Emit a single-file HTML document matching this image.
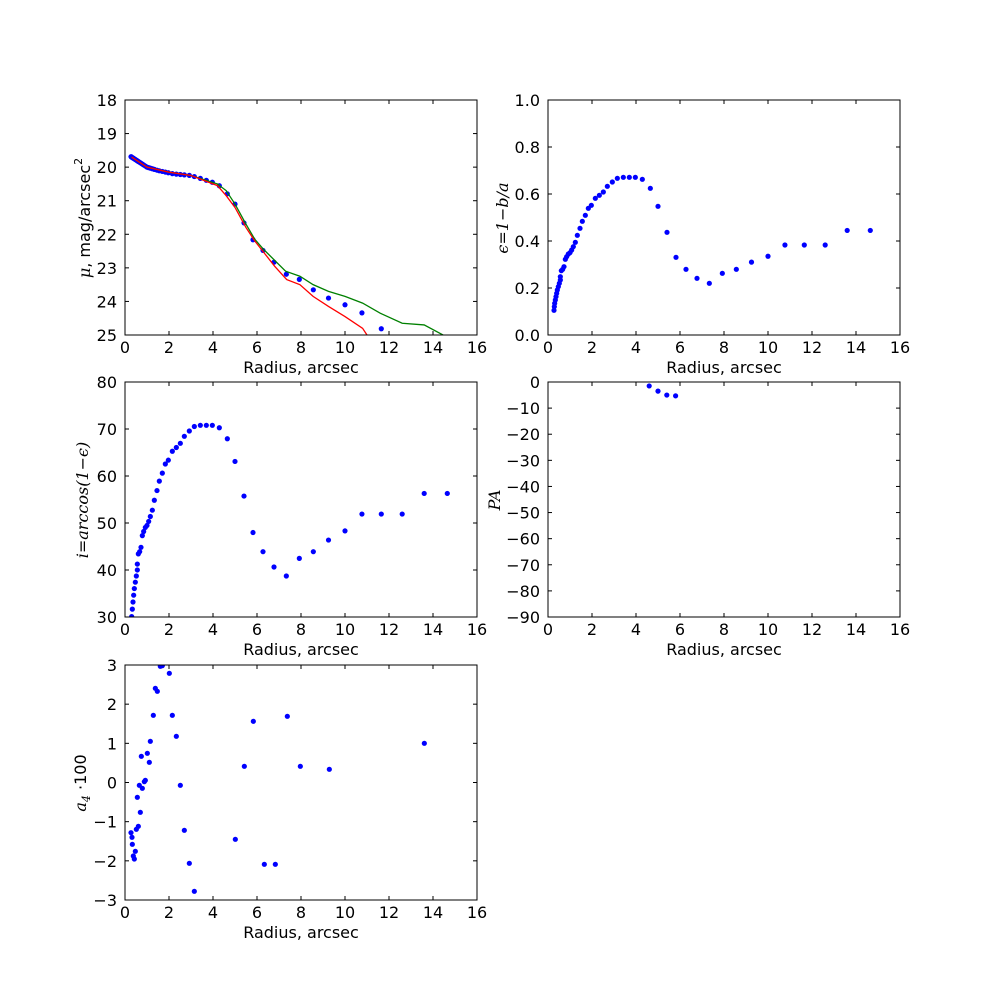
<!DOCTYPE html>
<html><head><meta charset="utf-8"><style>
body{margin:0;background:#fff}
svg text{font-family:"DejaVu Sans","Liberation Sans",sans-serif;font-size:16px;fill:#000}
.m{font-family:"DejaVu Serif","Liberation Serif",serif;font-style:italic}
</style></head><body>
<svg id="s" width="1000" height="1000" xmlns="http://www.w3.org/2000/svg"></svg>
<script>
const S=document.getElementById('s');let h='';
const W=352,H=235;
function ax(x0,y0,ymin,ymax,ystep,ylab,id,inv){
  h+=`<defs><clipPath id="${id}"><rect x="${x0}" y="${y0}" width="${W}" height="${H}"/></clipPath></defs>`;
  for(let v=0;v<=16;v+=2){const x=x0+v*22;
    h+=`<line x1="${x}" y1="${y0}" x2="${x}" y2="${y0+4}" stroke="#000"/><line x1="${x}" y1="${y0+H}" x2="${x}" y2="${y0+H-4}" stroke="#000"/>`;
    h+=`<text x="${x}" y="${y0+H+18}" text-anchor="middle">${v}</text>`;}
  const n=Math.round((ymax-ymin)/ystep);
  for(let i=0;i<=n;i++){const v=ymin+i*ystep;const y=inv?y0+i*H/n:y0+H-i*H/n;
    h+=`<line x1="${x0}" y1="${y}" x2="${x0+4}" y2="${y}" stroke="#000"/><line x1="${x0+W}" y1="${y}" x2="${x0+W-4}" y2="${y}" stroke="#000"/>`;
    let t=(ystep<1?v.toFixed(1):String(Math.round(v))).replace('-','\u2212');
    h+=`<text x="${x0-8}" y="${y+6}" text-anchor="end">${t}</text>`;}
  h+=`<text x="${x0+W/2}" y="${y0+H+38}" text-anchor="middle">Radius, arcsec</text>`;
  h+=ylab;
}
function pts(list,clip){let s=`<g clip-path="url(#${clip})" fill="#0000ff">`;for(const[p,q]of list)s+=`<circle cx="${p}" cy="${q}" r="2.6"/>`;return s+'</g>';}
const z2=[[42,661],[43,650],[44,640],[46,630],[48,620],[50,610],[52,600],[55,590],[58,580],[61,570],[61,560],[64,542],[68,538],[72,530],[76,508],[80,500],[85,492],[90,488],[95,480],[100,470],[106,457],[112,436],[120,415],[127,394],[136,376],[145,355],[154,346],[166,325],[178,316],[190,306],[202,289],[217,276],[232,265],[250,262],[268,262],[286,262],[307,268],[331,295],[354,349],[381,427],[408,502],[438,538],[471,565],[508,580],[547,550],[589,538]];
let ep=z2.map(([a,b])=>[ (a/3+540-548)/22, (335-(b/3+90))/235 ]);
ep=ep.concat([[9.25,0.31],[10.0,0.335],[10.77,0.383],[11.65,0.383],[12.6,0.383],[13.6,0.445],[14.65,0.445]]);
ax(125,100,18,25,1,`<text transform="translate(90,218) rotate(-90)" text-anchor="middle"><tspan class="m">μ</tspan>, mag/arcsec<tspan dy="-8" font-size="11">2</tspan></text>`,'c1',true);
const X=(r,x0)=>x0+r*22;
const Y1=m=>100+(m-18)/7*235;
const mu=[[0.3,19.7],[1,20.0],[1.5,20.1],[2.2,20.2],[3,20.25],[3.5,20.35],[4.2,20.5],[4.6,20.75],[5.0,21.1],[5.4,21.65],[5.8,22.15],[6.3,22.5],[6.8,22.85],[7.35,23.2],[7.95,23.35],[8.55,23.65],[9.25,23.9],[10.0,24.1],[10.8,24.35],[11.6,24.8],[20,27]];
function interp(r){for(let i=0;i<mu.length-1;i++){if(r<=mu[i+1][0]){const t=(r-mu[i][0])/(mu[i+1][0]-mu[i][0]);return mu[i][1]+t*(mu[i+1][1]-mu[i][1]);}}return 27;}
h+=pts(ep.map(([r])=>[X(r,125),Y1(interp(r))]),'c1');
const gr=[[0.3,19.7],[1,20],[2,20.15],[3,20.25],[4.2,20.5],[4.6,20.7],[5,21.1],[5.5,21.7],[5.9,22.15],[6.3,22.45],[7.3,23.1],[7.95,23.25],[8.55,23.5],[9.25,23.7],[10,23.85],[10.8,24.05],[11.6,24.35],[12.6,24.65],[13.6,24.7],[14.6,25.05]];
const rd=[[0.3,19.7],[1,20.0],[2,20.15],[3,20.25],[4.2,20.55],[4.6,20.85],[5,21.2],[5.5,21.8],[5.9,22.2],[6.8,22.95],[7.35,23.35],[7.95,23.5],[8.55,23.85],[9.25,24.15],[10,24.45],[10.8,24.8],[11.05,25.05]];
const pl=(a,c)=>`<polyline clip-path="url(#c1)" fill="none" stroke="${c}" stroke-width="1.3" points="${a.map(([r,m])=>X(r,125)+','+Y1(m)).join(' ')}"/>`;
h+=pl(gr,'#008000')+pl(rd,'#ff0000');
h+=`<rect x="125" y="100" width="352" height="235" fill="none" stroke="#000"/>`;
ax(548,100,0,1,0.2,`<text transform="translate(508,218) rotate(-90)" text-anchor="middle" class="m">ϵ=1−b/a</text>`,'c2');
h+=pts(ep.map(([r,e])=>[X(r,548),335-e*235]),'c2');
h+=`<rect x="548" y="100" width="352" height="235" fill="none" stroke="#000"/>`;
ax(125,382,30,80,10,`<text transform="translate(88,500) rotate(-90)" text-anchor="middle" class="m">i=arccos(1−ϵ)</text>`,'c3');
h+=pts(ep.map(([r,e])=>{const d=Math.acos(1-e)*180/Math.PI;return [X(r,125),617-(d-30)/50*235];}),'c3');
h+=`<rect x="125" y="382" width="352" height="235" fill="none" stroke="#000"/>`;
ax(548,382,-90,0,10,`<text transform="translate(500,500) rotate(-90)" text-anchor="middle" class="m">PA</text>`,'c4');
h+=pts([[4.6,-1.5],[5.0,-3.5],[5.4,-5],[5.8,-5.3]].map(([r,p])=>[X(r,548),382-p/90*235]),'c4');
h+=`<rect x="548" y="382" width="352" height="235" fill="none" stroke="#000"/>`;
ax(125,665,-3,3,1,`<text transform="translate(86,783) rotate(-90)" text-anchor="middle"><tspan class="m">a</tspan><tspan class="m" font-size="11" dy="4">4</tspan><tspan dy="-4"> ·100</tspan></text>`,'c5');
const z5=[[63,533],[66,547],[67,568],[70,603],[73,612],[76,589],[79,523],[85,514],[82,427],[91,472],[88,391],[97,400],[94,304],[103,380],[106,376],[112,295],[118,322],[121,259],[130,181],[136,100],[142,109],[151,34],[157,32],[178,55],[187,181],[199,244],[211,391],[223,526],[238,625],[253,709],[376,553],[403,334],[430,199],[463,628],[496,628],[532,184],[571,334],[658,343],[943,265]];
h+=pts(z5.map(([a,b])=>[a/3+110,b/3+655]),'c5');
h+=`<rect x="125" y="665" width="352" height="235" fill="none" stroke="#000"/>`;
S.innerHTML=h;
</script>
</body></html>
